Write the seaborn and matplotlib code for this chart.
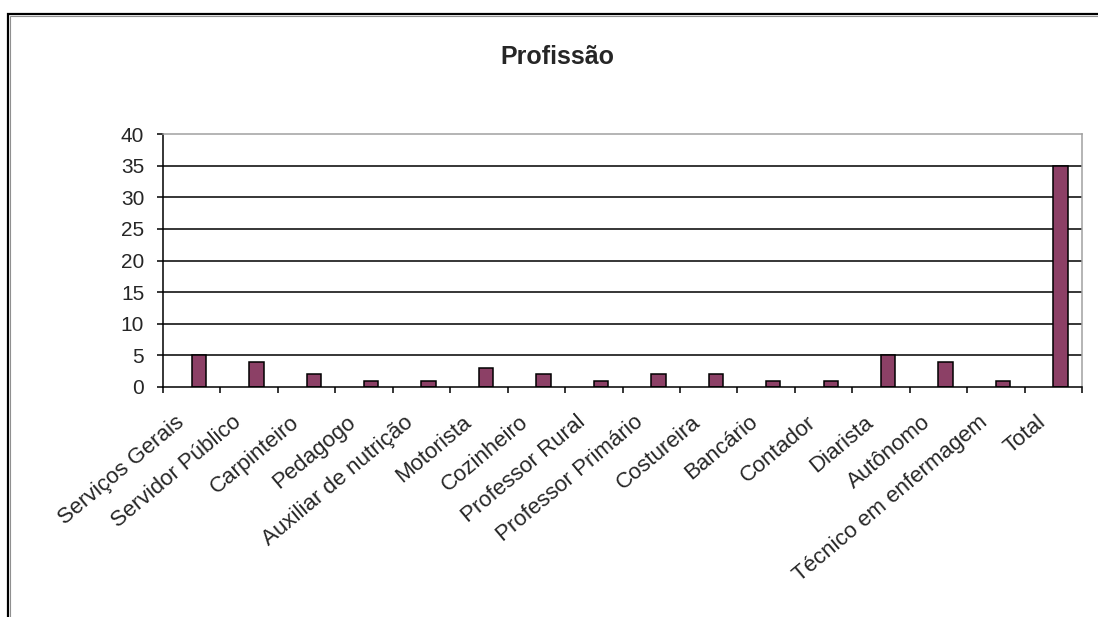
import numpy as np
import pandas as pd
import matplotlib
matplotlib.use("Agg")
import matplotlib.pyplot as plt
from matplotlib.patches import Rectangle
from matplotlib.transforms import ScaledTranslation
import seaborn as sns

# Professions and their counts
profissoes = [
    "Serviços Gerais", "Servidor Público", "Carpinteiro", "Pedagogo",
    "Auxiliar de nutrição", "Motorista", "Cozinheiro", "Professor Rural",
    "Professor Primário", "Costureira", "Bancário", "Contador", "Diarista",
    "Autônomo", "Técnico em enfermagem", "Total",
]
quantidades = [5, 4, 2, 1, 1, 3, 2, 1, 2, 2, 1, 1, 5, 4, 1, 35]
y_ticks = [0, 5, 10, 15, 20, 25, 30, 35, 40]

# The worksheet chart had two series; the first one is empty
series = ["Série 1", "Série 2"]
df = pd.concat([
    pd.DataFrame({"Profissão": profissoes, "Série": series[0],
                  "Valor": [np.nan] * len(profissoes)}),
    pd.DataFrame({"Profissão": profissoes, "Série": series[1],
                  "Valor": quantidades}),
], ignore_index=True)

sns.set_theme(style="white")
plt.rcParams["font.family"] = ["Liberation Sans", "DejaVu Sans"]

fig = plt.figure(figsize=(10.98, 6.17), dpi=100)
ax = fig.add_axes([163 / 1098, 1 - 387 / 617, 919 / 1098, 253 / 617])

sns.barplot(data=df, x="Profissão", y="Valor", hue="Série",
            order=profissoes, hue_order=series,
            palette={series[0]: "#993366", series[1]: "#993366"},
            width=0.5, dodge=True, edgecolor="black", linewidth=1.1,
            legend=False, ax=ax, errorbar=None)

ax.set_xlim(-0.5, len(profissoes) - 0.5)
ax.set_ylim(0, 40)
ax.set_yticks(y_ticks)
ax.set_xlabel("")
ax.set_ylabel("")

# Horizontal gridlines, black as in the spreadsheet style
for y in y_ticks[1:-1]:
    ax.axhline(y, color="black", linewidth=1.1, zorder=0.5)

for side in ["left", "bottom"]:
    ax.spines[side].set_color("black")
    ax.spines[side].set_linewidth(1.1)
for side in ["top", "right"]:
    ax.spines[side].set_visible(True)
    ax.spines[side].set_color("#a0a0a0")
    ax.spines[side].set_linewidth(1.1)

ax.tick_params(axis="y", direction="out", length=4.5, width=1.1,
               color="black", pad=9.0, labelsize=15, left=True)
ax.tick_params(axis="x", which="major", length=0, pad=26.5, labelsize=16)
ax.set_xticks(np.arange(-0.5, len(profissoes), 1), minor=True)
ax.tick_params(axis="x", which="minor", direction="out", length=4.5,
               width=1.1, color="black", bottom=True)

shift = ScaledTranslation(-7 / 100, 0, fig.dpi_scale_trans)
for lbl in ax.get_xticklabels():
    lbl.set_rotation(40)
    lbl.set_ha("right")
    lbl.set_va("baseline")
    lbl.set_rotation_mode("anchor")
    lbl.set_transform(lbl.get_transform() + shift)

fig.text(557 / 1098, 1 - 57 / 617, "Profissão", ha="center", va="center",
         fontsize=18, fontweight="bold")

# Chart-area frame
fig.add_artist(Rectangle((8 / 1098, -0.1), 1.2, 1.1 - 14 / 617,
                         transform=fig.transFigure, fill=False,
                         edgecolor="black", linewidth=1.6))
fig.add_artist(Rectangle((10 / 1098, -0.1), 1.2, 1.1 - 16 / 617,
                         transform=fig.transFigure, fill=False,
                         edgecolor="#909090", linewidth=0.8))

fig.savefig("out.png", dpi=100, facecolor="white")
